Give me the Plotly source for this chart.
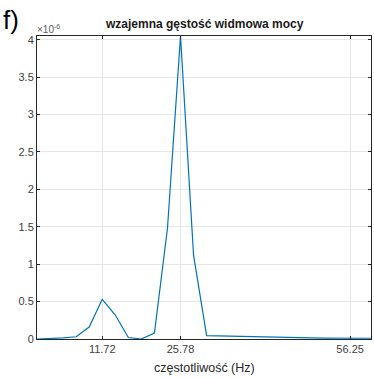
import plotly.graph_objects as go

df_hz = 2.34375
bins = list(range(27))
freq_hz = [k * df_hz for k in bins]
csd_e6 = [0.0, 0.005, 0.015, 0.03, 0.16, 0.53, 0.32, 0.02, 0.0, 0.08,
          1.48, 4.05, 1.12, 0.045, 0.04, 0.035, 0.03, 0.025, 0.02, 0.018,
          0.016, 0.014, 0.013, 0.012, 0.011, 0.01, 0.01]
csd = [v * 1e-6 for v in csd_e6]

x_ticks = [11.72, 25.78, 56.25]
x_ticklabels = ["11.72", "25.78", "56.25"]
y_ticks = [0, 0.5e-6, 1e-6, 1.5e-6, 2e-6, 2.5e-6, 3e-6, 3.5e-6, 4e-6]
y_ticklabels = ["0", "0.5", "1", "1.5", "2", "2.5", "3", "3.5", "4"]

title_text = "wzajemna gęstość widmowa mocy"
x_label = "częstotliwość (Hz)"
panel_label = "f)"
exp_label = "×10<sup>-6</sup>"

fig = go.Figure()
fig.add_trace(go.Scatter(x=freq_hz, y=csd, mode="lines",
                         line=dict(color="#0072BD", width=1.2),
                         hoverinfo="skip", showlegend=False))

axis_common = dict(showline=True, linecolor="#262626", linewidth=1, mirror="ticks",
                   ticks="inside", ticklen=3, tickcolor="#262626",
                   showgrid=True, gridcolor="#e6e6e6", gridwidth=1,
                   zeroline=False, tickfont=dict(family="Liberation Sans, Arial", size=11, color="#404040"))

fig.update_layout(
    width=374, height=378,
    margin=dict(l=37, r=3, t=36, b=39),
    paper_bgcolor="white", plot_bgcolor="white",
    xaxis=dict(range=[0, 60], tickvals=x_ticks, ticktext=x_ticklabels, **axis_common),
    yaxis=dict(range=[0, 4.05e-6], tickvals=y_ticks, ticktext=y_ticklabels, **axis_common),
    annotations=[
        dict(text="<b>" + title_text + "</b>", xref="paper", yref="paper", x=0.5, y=1.0,
             yshift=3, xanchor="center", yanchor="bottom", showarrow=False,
             font=dict(family="Liberation Sans, Arial", size=12, color="#1a1a1a")),
        dict(text=x_label, xref="paper", yref="paper", x=0.5, y=0, yshift=-20,
             xanchor="center", yanchor="top", showarrow=False,
             font=dict(family="Liberation Sans, Arial", size=12.5, color="#262626")),
        dict(text=panel_label, xref="paper", yref="paper", x=0, y=1.0, xshift=-36, yshift=-1,
             xanchor="left", yanchor="bottom", showarrow=False,
             font=dict(family="Liberation Sans, Arial", size=26, color="#000000")),
        dict(text=exp_label, xref="paper", yref="paper", x=0, y=1.0, xshift=-2, yshift=-1,
             xanchor="left", yanchor="bottom", showarrow=False,
             font=dict(family="Liberation Sans, Arial", size=10, color="#606060")),
    ],
)

fig.write_html("out.html", config={"displayModeBar": False},
               post_script="document.body.style.margin='0';document.body.style.padding='0';")
